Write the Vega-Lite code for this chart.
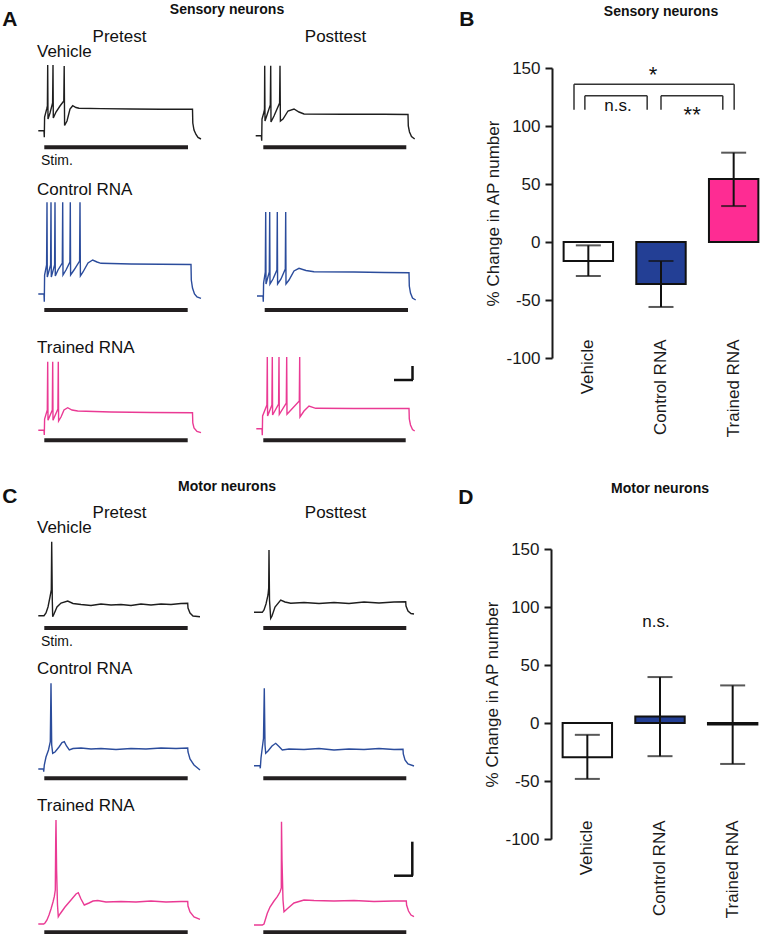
{
"$schema": "https://vega.github.io/schema/vega-lite/v6.json",
"padding": {"left": 2, "top": 2, "right": 0, "bottom": 0},
"spacing": 29,
"config": {
  "font": "Liberation Sans",
  "view": {"stroke": null},
  "axis": {"grid": false, "domainColor": "#1a1a1a", "tickColor": "#1a1a1a", "labelColor": "#1a1a1a", "titleColor": "#1a1a1a", "labelFontSize": 17, "titleFontSize": 17, "titleFontWeight": "normal", "labelFont": "Liberation Sans", "titleFont": "Liberation Sans"},
  "axisY": {"domainWidth": 2, "tickWidth": 2, "tickSize": 7, "labelPadding": 5, "titlePadding": 3.5, "labelExpr": "'' + datum.value"},
  "axisX": {"domain": false, "ticks": false, "labelAngle": -90, "offset": -22, "labelPadding": 3},
  "header": {"titleFontSize": 14, "titleFontWeight": "bold", "titleColor": "#111", "labelFontSize": 17, "labelColor": "#111", "titleFont": "Liberation Sans", "labelFont": "Liberation Sans"},
  "title": {"color": "#111", "font": "Liberation Sans"}
},
"vconcat": [
{
"spacing": 40,
"hconcat": [
{
  "title": {"text": "A", "orient": "left", "angle": 0, "anchor": "end", "align": "left", "baseline": "top", "fontSize": 21, "fontWeight": "bold", "offset": 18, "dy": 6.7},
  "data": {"values": [
    {"cond":"Vehicle","test":"Pretest","kind":"trace","t":13,"v":48.3},{"cond":"Vehicle","test":"Pretest","kind":"trace","t":70,"v":48.3},{"cond":"Vehicle","test":"Pretest","kind":"trace","t":73,"v":41.7},{"cond":"Vehicle","test":"Pretest","kind":"trace","t":76,"v":62},{"cond":"Vehicle","test":"Pretest","kind":"trace","t":97,"v":70},{"cond":"Vehicle","test":"Pretest","kind":"trace","t":104,"v":73},{"cond":"Vehicle","test":"Pretest","kind":"trace","t":107,"v":114},{"cond":"Vehicle","test":"Pretest","kind":"trace","t":110,"v":60},{"cond":"Vehicle","test":"Pretest","kind":"trace","t":130,"v":66},{"cond":"Vehicle","test":"Pretest","kind":"trace","t":156,"v":76},{"cond":"Vehicle","test":"Pretest","kind":"trace","t":160,"v":114},{"cond":"Vehicle","test":"Pretest","kind":"trace","t":163,"v":61},{"cond":"Vehicle","test":"Pretest","kind":"trace","t":190,"v":67},{"cond":"Vehicle","test":"Pretest","kind":"trace","t":230,"v":73},{"cond":"Vehicle","test":"Pretest","kind":"trace","t":268,"v":78},{"cond":"Vehicle","test":"Pretest","kind":"trace","t":272,"v":113},{"cond":"Vehicle","test":"Pretest","kind":"trace","t":276,"v":53.5},{"cond":"Vehicle","test":"Pretest","kind":"trace","t":300,"v":58},{"cond":"Vehicle","test":"Pretest","kind":"trace","t":330,"v":70},{"cond":"Vehicle","test":"Pretest","kind":"trace","t":357,"v":73.3},{"cond":"Vehicle","test":"Pretest","kind":"trace","t":390,"v":71.5},{"cond":"Vehicle","test":"Pretest","kind":"trace","t":420,"v":70.7},{"cond":"Vehicle","test":"Pretest","kind":"trace","t":640,"v":70.4},{"cond":"Vehicle","test":"Pretest","kind":"trace","t":940,"v":70},{"cond":"Vehicle","test":"Pretest","kind":"trace","t":1240,"v":69.8},{"cond":"Vehicle","test":"Pretest","kind":"trace","t":1555,"v":69.7},{"cond":"Vehicle","test":"Pretest","kind":"trace","t":1558,"v":56},{"cond":"Vehicle","test":"Pretest","kind":"trace","t":1570,"v":49},{"cond":"Vehicle","test":"Pretest","kind":"trace","t":1590,"v":44.5},{"cond":"Vehicle","test":"Pretest","kind":"trace","t":1610,"v":41.5},{"cond":"Vehicle","test":"Pretest","kind":"trace","t":1640,"v":40},
    {"cond":"Vehicle","test":"Posttest","kind":"trace","t":27,"v":43.3},{"cond":"Vehicle","test":"Posttest","kind":"trace","t":84,"v":43.3},{"cond":"Vehicle","test":"Posttest","kind":"trace","t":87,"v":38.3},{"cond":"Vehicle","test":"Posttest","kind":"trace","t":90,"v":60},{"cond":"Vehicle","test":"Posttest","kind":"trace","t":110,"v":67},{"cond":"Vehicle","test":"Posttest","kind":"trace","t":115,"v":70},{"cond":"Vehicle","test":"Posttest","kind":"trace","t":117,"v":113.3},{"cond":"Vehicle","test":"Posttest","kind":"trace","t":120,"v":58},{"cond":"Vehicle","test":"Posttest","kind":"trace","t":140,"v":64},{"cond":"Vehicle","test":"Posttest","kind":"trace","t":173,"v":74},{"cond":"Vehicle","test":"Posttest","kind":"trace","t":177,"v":113.3},{"cond":"Vehicle","test":"Posttest","kind":"trace","t":180,"v":57},{"cond":"Vehicle","test":"Posttest","kind":"trace","t":210,"v":63},{"cond":"Vehicle","test":"Posttest","kind":"trace","t":266,"v":76},{"cond":"Vehicle","test":"Posttest","kind":"trace","t":270,"v":113.3},{"cond":"Vehicle","test":"Posttest","kind":"trace","t":274,"v":58},{"cond":"Vehicle","test":"Posttest","kind":"trace","t":300,"v":60},{"cond":"Vehicle","test":"Posttest","kind":"trace","t":350,"v":68},{"cond":"Vehicle","test":"Posttest","kind":"trace","t":410,"v":70},{"cond":"Vehicle","test":"Posttest","kind":"trace","t":460,"v":67},{"cond":"Vehicle","test":"Posttest","kind":"trace","t":510,"v":65},{"cond":"Vehicle","test":"Posttest","kind":"trace","t":910,"v":64.8},{"cond":"Vehicle","test":"Posttest","kind":"trace","t":1310,"v":64.7},{"cond":"Vehicle","test":"Posttest","kind":"trace","t":1550,"v":64.5},{"cond":"Vehicle","test":"Posttest","kind":"trace","t":1553,"v":53},{"cond":"Vehicle","test":"Posttest","kind":"trace","t":1565,"v":47},{"cond":"Vehicle","test":"Posttest","kind":"trace","t":1585,"v":42.5},{"cond":"Vehicle","test":"Posttest","kind":"trace","t":1617,"v":40},
    {"cond":"Control RNA","test":"Pretest","kind":"trace","t":13,"v":21},{"cond":"Control RNA","test":"Pretest","kind":"trace","t":70,"v":21},{"cond":"Control RNA","test":"Pretest","kind":"trace","t":73,"v":13.3},{"cond":"Control RNA","test":"Pretest","kind":"trace","t":76,"v":40},{"cond":"Control RNA","test":"Pretest","kind":"trace","t":96,"v":50},{"cond":"Control RNA","test":"Pretest","kind":"trace","t":100,"v":112.7},{"cond":"Control RNA","test":"Pretest","kind":"trace","t":103,"v":38},{"cond":"Control RNA","test":"Pretest","kind":"trace","t":136,"v":50},{"cond":"Control RNA","test":"Pretest","kind":"trace","t":140,"v":112.7},{"cond":"Control RNA","test":"Pretest","kind":"trace","t":143,"v":38},{"cond":"Control RNA","test":"Pretest","kind":"trace","t":176,"v":50},{"cond":"Control RNA","test":"Pretest","kind":"trace","t":180,"v":112.7},{"cond":"Control RNA","test":"Pretest","kind":"trace","t":183,"v":39},{"cond":"Control RNA","test":"Pretest","kind":"trace","t":210,"v":45},{"cond":"Control RNA","test":"Pretest","kind":"trace","t":253,"v":52},{"cond":"Control RNA","test":"Pretest","kind":"trace","t":257,"v":112.7},{"cond":"Control RNA","test":"Pretest","kind":"trace","t":260,"v":40},{"cond":"Control RNA","test":"Pretest","kind":"trace","t":290,"v":45},{"cond":"Control RNA","test":"Pretest","kind":"trace","t":329,"v":53},{"cond":"Control RNA","test":"Pretest","kind":"trace","t":333,"v":112.7},{"cond":"Control RNA","test":"Pretest","kind":"trace","t":336,"v":40},{"cond":"Control RNA","test":"Pretest","kind":"trace","t":370,"v":45},{"cond":"Control RNA","test":"Pretest","kind":"trace","t":426,"v":54},{"cond":"Control RNA","test":"Pretest","kind":"trace","t":430,"v":112.7},{"cond":"Control RNA","test":"Pretest","kind":"trace","t":434,"v":39},{"cond":"Control RNA","test":"Pretest","kind":"trace","t":460,"v":43},{"cond":"Control RNA","test":"Pretest","kind":"trace","t":510,"v":52},{"cond":"Control RNA","test":"Pretest","kind":"trace","t":557,"v":55},{"cond":"Control RNA","test":"Pretest","kind":"trace","t":600,"v":53},{"cond":"Control RNA","test":"Pretest","kind":"trace","t":640,"v":51.7},{"cond":"Control RNA","test":"Pretest","kind":"trace","t":940,"v":51},{"cond":"Control RNA","test":"Pretest","kind":"trace","t":1240,"v":50.7},{"cond":"Control RNA","test":"Pretest","kind":"trace","t":1540,"v":50.5},{"cond":"Control RNA","test":"Pretest","kind":"trace","t":1543,"v":35},{"cond":"Control RNA","test":"Pretest","kind":"trace","t":1555,"v":27},{"cond":"Control RNA","test":"Pretest","kind":"trace","t":1575,"v":21},{"cond":"Control RNA","test":"Pretest","kind":"trace","t":1600,"v":18},{"cond":"Control RNA","test":"Pretest","kind":"trace","t":1640,"v":16.7},
    {"cond":"Control RNA","test":"Posttest","kind":"trace","t":40,"v":19},{"cond":"Control RNA","test":"Posttest","kind":"trace","t":100,"v":19},{"cond":"Control RNA","test":"Posttest","kind":"trace","t":103,"v":13.3},{"cond":"Control RNA","test":"Posttest","kind":"trace","t":106,"v":32},{"cond":"Control RNA","test":"Posttest","kind":"trace","t":123,"v":43},{"cond":"Control RNA","test":"Posttest","kind":"trace","t":127,"v":103},{"cond":"Control RNA","test":"Posttest","kind":"trace","t":130,"v":31},{"cond":"Control RNA","test":"Posttest","kind":"trace","t":163,"v":43},{"cond":"Control RNA","test":"Posttest","kind":"trace","t":167,"v":103},{"cond":"Control RNA","test":"Posttest","kind":"trace","t":170,"v":31},{"cond":"Control RNA","test":"Posttest","kind":"trace","t":200,"v":36},{"cond":"Control RNA","test":"Posttest","kind":"trace","t":239,"v":45},{"cond":"Control RNA","test":"Posttest","kind":"trace","t":243,"v":103},{"cond":"Control RNA","test":"Posttest","kind":"trace","t":246,"v":31},{"cond":"Control RNA","test":"Posttest","kind":"trace","t":280,"v":36},{"cond":"Control RNA","test":"Posttest","kind":"trace","t":323,"v":46},{"cond":"Control RNA","test":"Posttest","kind":"trace","t":327,"v":103},{"cond":"Control RNA","test":"Posttest","kind":"trace","t":330,"v":31},{"cond":"Control RNA","test":"Posttest","kind":"trace","t":360,"v":35},{"cond":"Control RNA","test":"Posttest","kind":"trace","t":410,"v":44},{"cond":"Control RNA","test":"Posttest","kind":"trace","t":460,"v":46.7},{"cond":"Control RNA","test":"Posttest","kind":"trace","t":530,"v":44.5},{"cond":"Control RNA","test":"Posttest","kind":"trace","t":610,"v":43.3},{"cond":"Control RNA","test":"Posttest","kind":"trace","t":1010,"v":43},{"cond":"Control RNA","test":"Posttest","kind":"trace","t":1310,"v":42.5},{"cond":"Control RNA","test":"Posttest","kind":"trace","t":1560,"v":42.3},{"cond":"Control RNA","test":"Posttest","kind":"trace","t":1563,"v":29},{"cond":"Control RNA","test":"Posttest","kind":"trace","t":1575,"v":22},{"cond":"Control RNA","test":"Posttest","kind":"trace","t":1595,"v":17},{"cond":"Control RNA","test":"Posttest","kind":"trace","t":1627,"v":15},
    {"cond":"Trained RNA","test":"Pretest","kind":"trace","t":13,"v":20.7},{"cond":"Trained RNA","test":"Pretest","kind":"trace","t":70,"v":20.7},{"cond":"Trained RNA","test":"Pretest","kind":"trace","t":73,"v":16},{"cond":"Trained RNA","test":"Pretest","kind":"trace","t":76,"v":32},{"cond":"Trained RNA","test":"Pretest","kind":"trace","t":103,"v":41},{"cond":"Trained RNA","test":"Pretest","kind":"trace","t":107,"v":89.3},{"cond":"Trained RNA","test":"Pretest","kind":"trace","t":110,"v":30.7},{"cond":"Trained RNA","test":"Pretest","kind":"trace","t":153,"v":41},{"cond":"Trained RNA","test":"Pretest","kind":"trace","t":157,"v":89.3},{"cond":"Trained RNA","test":"Pretest","kind":"trace","t":160,"v":30.7},{"cond":"Trained RNA","test":"Pretest","kind":"trace","t":209,"v":42},{"cond":"Trained RNA","test":"Pretest","kind":"trace","t":213,"v":89.3},{"cond":"Trained RNA","test":"Pretest","kind":"trace","t":216,"v":30},{"cond":"Trained RNA","test":"Pretest","kind":"trace","t":240,"v":34},{"cond":"Trained RNA","test":"Pretest","kind":"trace","t":270,"v":41},{"cond":"Trained RNA","test":"Pretest","kind":"trace","t":307,"v":43.3},{"cond":"Trained RNA","test":"Pretest","kind":"trace","t":350,"v":41},{"cond":"Trained RNA","test":"Pretest","kind":"trace","t":407,"v":40},{"cond":"Trained RNA","test":"Pretest","kind":"trace","t":740,"v":39},{"cond":"Trained RNA","test":"Pretest","kind":"trace","t":1140,"v":38.5},{"cond":"Trained RNA","test":"Pretest","kind":"trace","t":1555,"v":38.3},{"cond":"Trained RNA","test":"Pretest","kind":"trace","t":1558,"v":28},{"cond":"Trained RNA","test":"Pretest","kind":"trace","t":1570,"v":23},{"cond":"Trained RNA","test":"Pretest","kind":"trace","t":1600,"v":19.5},{"cond":"Trained RNA","test":"Pretest","kind":"trace","t":1640,"v":18.3},
    {"cond":"Trained RNA","test":"Posttest","kind":"trace","t":33,"v":22.3},{"cond":"Trained RNA","test":"Posttest","kind":"trace","t":90,"v":22.3},{"cond":"Trained RNA","test":"Posttest","kind":"trace","t":93,"v":15.7},{"cond":"Trained RNA","test":"Posttest","kind":"trace","t":96,"v":35},{"cond":"Trained RNA","test":"Posttest","kind":"trace","t":139,"v":46},{"cond":"Trained RNA","test":"Posttest","kind":"trace","t":143,"v":94},{"cond":"Trained RNA","test":"Posttest","kind":"trace","t":146,"v":35},{"cond":"Trained RNA","test":"Posttest","kind":"trace","t":189,"v":46},{"cond":"Trained RNA","test":"Posttest","kind":"trace","t":193,"v":94},{"cond":"Trained RNA","test":"Posttest","kind":"trace","t":196,"v":36},{"cond":"Trained RNA","test":"Posttest","kind":"trace","t":256,"v":47},{"cond":"Trained RNA","test":"Posttest","kind":"trace","t":260,"v":94},{"cond":"Trained RNA","test":"Posttest","kind":"trace","t":263,"v":36.7},{"cond":"Trained RNA","test":"Posttest","kind":"trace","t":333,"v":48},{"cond":"Trained RNA","test":"Posttest","kind":"trace","t":337,"v":94},{"cond":"Trained RNA","test":"Posttest","kind":"trace","t":340,"v":36.7},{"cond":"Trained RNA","test":"Posttest","kind":"trace","t":463,"v":50},{"cond":"Trained RNA","test":"Posttest","kind":"trace","t":467,"v":94},{"cond":"Trained RNA","test":"Posttest","kind":"trace","t":470,"v":34},{"cond":"Trained RNA","test":"Posttest","kind":"trace","t":510,"v":40},{"cond":"Trained RNA","test":"Posttest","kind":"trace","t":560,"v":45},{"cond":"Trained RNA","test":"Posttest","kind":"trace","t":627,"v":42.7},{"cond":"Trained RNA","test":"Posttest","kind":"trace","t":1010,"v":42.5},{"cond":"Trained RNA","test":"Posttest","kind":"trace","t":1560,"v":42.5},{"cond":"Trained RNA","test":"Posttest","kind":"trace","t":1563,"v":32},{"cond":"Trained RNA","test":"Posttest","kind":"trace","t":1575,"v":26},{"cond":"Trained RNA","test":"Posttest","kind":"trace","t":1595,"v":21.5},{"cond":"Trained RNA","test":"Posttest","kind":"trace","t":1617,"v":20},
    {"cond":"Vehicle","test":"Pretest","kind":"stim","t":73,"t2":1510,"v":31.7},{"cond":"Vehicle","test":"Posttest","kind":"stim","t":103,"t2":1533,"v":31.7},
    {"cond":"Control RNA","test":"Pretest","kind":"stim","t":73,"t2":1507,"v":5},{"cond":"Control RNA","test":"Posttest","kind":"stim","t":117,"t2":1550,"v":5},
    {"cond":"Trained RNA","test":"Pretest","kind":"stim","t":73,"t2":1507,"v":10.7},{"cond":"Trained RNA","test":"Posttest","kind":"stim","t":103,"t2":1527,"v":10.7},
    {"cond":"Vehicle","test":"Pretest","kind":"label","t":0,"v":127.5,"label":"Vehicle"},
    {"cond":"Control RNA","test":"Pretest","kind":"label","t":0,"v":125,"label":"Control RNA"},
    {"cond":"Trained RNA","test":"Pretest","kind":"label","t":0,"v":103.5,"label":"Trained RNA"},
    {"cond":"Vehicle","test":"Pretest","kind":"stimlabel","t":40,"v":18,"label":"Stim."},
    {"cond":"Trained RNA","test":"Posttest","kind":"scale","t":1410,"t2":1600,"v":71,"v2":71},
    {"cond":"Trained RNA","test":"Posttest","kind":"scale","t":1595,"t2":1595,"v":85,"v2":71}
  ]},
  "facet": {
    "column": {"field": "test", "type": "nominal", "sort": ["Pretest", "Posttest"], "title": "Sensory neurons", "header": {"titlePadding": 0.5, "labelPadding": -3.5}},
    "row": {"field": "cond", "type": "nominal", "sort": ["Vehicle", "Control RNA", "Trained RNA"], "title": null, "header": {"labels": false}}
  },
  "spacing": {"row": 1, "column": 48},
  "spec": {
    "width": 165, "height": 111,
    "layer": [
      {"transform": [{"filter": "datum.kind == 'trace'"}],
       "mark": {"type": "line", "strokeWidth": 1.4, "interpolate": "linear"},
       "encoding": {
         "x": {"field": "t", "type": "quantitative", "scale": {"domain": [0, 1650], "nice": false, "zero": false}, "axis": null},
         "y": {"field": "v", "type": "quantitative", "scale": {"domain": [0, 111], "nice": false, "zero": false}, "axis": null},
         "color": {"field": "cond", "type": "nominal", "scale": {"domain": ["Vehicle", "Control RNA", "Trained RNA"], "range": ["#1e1e1e", "#2b4c9c", "#ea3a94"]}, "legend": null}
       }},
      {"transform": [{"filter": "datum.kind == 'stim'"}],
       "mark": {"type": "rule", "strokeWidth": 4, "color": "#231f20"},
       "encoding": {
         "x": {"field": "t", "type": "quantitative", "scale": {"domain": [0, 1650], "nice": false, "zero": false}, "axis": null},
         "x2": {"field": "t2"},
         "y": {"field": "v", "type": "quantitative", "scale": {"domain": [0, 111], "nice": false, "zero": false}, "axis": null}
       }},
      {"transform": [{"filter": "datum.kind == 'scale'"}],
       "mark": {"type": "rule", "strokeWidth": 2.5, "color": "#111"},
       "encoding": {
         "x": {"field": "t", "type": "quantitative", "scale": {"domain": [0, 1650], "nice": false, "zero": false}, "axis": null},
         "x2": {"field": "t2"},
         "y": {"field": "v", "type": "quantitative", "scale": {"domain": [0, 111], "nice": false, "zero": false}, "axis": null},
         "y2": {"field": "v2"}
       }},
      {"transform": [{"filter": "datum.kind == 'label'"}],
       "mark": {"type": "text", "align": "left", "baseline": "middle", "fontSize": 17, "color": "#111"},
       "encoding": {
         "x": {"field": "t", "type": "quantitative", "scale": {"domain": [0, 1650], "nice": false, "zero": false}, "axis": null},
         "y": {"field": "v", "type": "quantitative", "scale": {"domain": [0, 111], "nice": false, "zero": false}, "axis": null},
         "text": {"field": "label"}
       }},
      {"transform": [{"filter": "datum.kind == 'stimlabel'"}],
       "mark": {"type": "text", "align": "left", "baseline": "middle", "fontSize": 14, "color": "#111"},
       "encoding": {
         "x": {"field": "t", "type": "quantitative", "scale": {"domain": [0, 1650], "nice": false, "zero": false}, "axis": null},
         "y": {"field": "v", "type": "quantitative", "scale": {"domain": [0, 111], "nice": false, "zero": false}, "axis": null},
         "text": {"field": "label"}
       }}
    ]
  }
},
{
  "title": {"text": "B", "orient": "left", "angle": 0, "anchor": "end", "align": "left", "baseline": "top", "fontSize": 21, "fontWeight": "bold", "offset": 10, "dy": 3.7},
  "hconcat": [
  {
    "title": {"text": "Sensory neurons", "fontSize": 14, "fontWeight": "bold", "anchor": "middle", "frame": "group", "offset": 40, "dx": 0},
    "width": 218, "height": 290,
    "layer": [
      {"data": {"values": [{"group":"Vehicle","mean":-16.4,"lo":-29.3,"hi":-2.9},{"group":"Control RNA","mean":-36.2,"lo":-56,"hi":-16.4},{"group":"Trained RNA","mean":54.3,"lo":31,"hi":77}]},
       "layer": [
        {"mark": {"type": "bar", "stroke": "#111", "strokeWidth": 2},
         "encoding": {
           "x": {"field": "group", "type": "nominal", "title": null, "scale": {"domain": ["Vehicle", "Control RNA", "Trained RNA"], "paddingInner": 0.32, "paddingOuter": 0.16}},
           "y": {"field": "mean", "type": "quantitative", "title": "% Change in AP number", "scale": {"domain": [-100, 150], "nice": false}, "axis": {"values": [-100, -50, 0, 50, 100, 150]}},
           "fill": {"field": "group", "type": "nominal", "scale": {"domain": ["Vehicle", "Control RNA", "Trained RNA"], "range": ["#ffffff", "#233f95", "#fe2c93"]}, "legend": null}
         }},
        {"mark": {"type": "rule", "strokeWidth": 2, "color": "#111"},
         "encoding": {
           "x": {"field": "group", "type": "nominal", "title": null, "scale": {"domain": ["Vehicle", "Control RNA", "Trained RNA"]}},
           "y": {"field": "lo", "type": "quantitative", "title": "% Change in AP number", "scale": {"domain": [-100, 150], "nice": false}},
           "y2": {"field": "hi"}
         }},
        {"mark": {"type": "tick", "thickness": 2, "size": 25, "color": "#111"},
         "encoding": {
           "x": {"field": "group", "type": "nominal", "title": null, "scale": {"domain": ["Vehicle", "Control RNA", "Trained RNA"]}},
           "y": {"field": "lo", "type": "quantitative", "title": "% Change in AP number", "scale": {"domain": [-100, 150], "nice": false}}
         }},
        {"mark": {"type": "tick", "thickness": 2, "size": 25, "color": "#111"},
         "encoding": {
           "x": {"field": "group", "type": "nominal", "title": null, "scale": {"domain": ["Vehicle", "Control RNA", "Trained RNA"]}},
           "y": {"field": "hi", "type": "quantitative", "title": "% Change in AP number", "scale": {"domain": [-100, 150], "nice": false}}
         }}
       ]},
      {"mark": {"type": "rule", "strokeWidth": 2, "color": "#111"},
       "encoding": {"y": {"datum": 0, "type": "quantitative", "title": "% Change in AP number", "scale": {"domain": [-100, 150], "nice": false}}}},
      {"data": {"values": [{"a": "Vehicle", "b": "Trained RNA", "top": 136, "bot": 114}]},
       "layer": [
        {"mark": {"type": "rule", "strokeWidth": 1.5, "color": "#333"},
         "encoding": {"x": {"field": "a", "type": "nominal", "bandPosition": 0.21, "title": null, "scale": {"domain": ["Vehicle", "Control RNA", "Trained RNA"]}}, "x2": {"field": "b", "bandPosition": 0.51}, "y": {"field": "top", "type": "quantitative", "title": "% Change in AP number", "scale": {"domain": [-100, 150], "nice": false}}}},
        {"mark": {"type": "rule", "strokeWidth": 1.5, "color": "#333"},
         "encoding": {"x": {"field": "a", "type": "nominal", "bandPosition": 0.21, "title": null, "scale": {"domain": ["Vehicle", "Control RNA", "Trained RNA"]}}, "y": {"field": "bot", "type": "quantitative", "title": "% Change in AP number", "scale": {"domain": [-100, 150], "nice": false}}, "y2": {"field": "top"}}},
        {"mark": {"type": "rule", "strokeWidth": 1.5, "color": "#333"},
         "encoding": {"x": {"field": "b", "type": "nominal", "bandPosition": 0.51, "title": null, "scale": {"domain": ["Vehicle", "Control RNA", "Trained RNA"]}}, "y": {"field": "bot", "type": "quantitative", "title": "% Change in AP number", "scale": {"domain": [-100, 150], "nice": false}}, "y2": {"field": "top"}}}
       ]},
      {"data": {"values": [{"a": "Vehicle", "b": "Control RNA", "top": 126, "bot": 114}]},
       "layer": [
        {"mark": {"type": "rule", "strokeWidth": 1.5, "color": "#333"},
         "encoding": {"x": {"field": "a", "type": "nominal", "bandPosition": 0.43, "title": null, "scale": {"domain": ["Vehicle", "Control RNA", "Trained RNA"]}}, "x2": {"field": "b", "bandPosition": 0.22}, "y": {"field": "top", "type": "quantitative", "title": "% Change in AP number", "scale": {"domain": [-100, 150], "nice": false}}}},
        {"mark": {"type": "rule", "strokeWidth": 1.5, "color": "#333"},
         "encoding": {"x": {"field": "a", "type": "nominal", "bandPosition": 0.43, "title": null, "scale": {"domain": ["Vehicle", "Control RNA", "Trained RNA"]}}, "y": {"field": "bot", "type": "quantitative", "title": "% Change in AP number", "scale": {"domain": [-100, 150], "nice": false}}, "y2": {"field": "top"}}},
        {"mark": {"type": "rule", "strokeWidth": 1.5, "color": "#333"},
         "encoding": {"x": {"field": "b", "type": "nominal", "bandPosition": 0.22, "title": null, "scale": {"domain": ["Vehicle", "Control RNA", "Trained RNA"]}}, "y": {"field": "bot", "type": "quantitative", "title": "% Change in AP number", "scale": {"domain": [-100, 150], "nice": false}}, "y2": {"field": "top"}}}
       ]},
      {"data": {"values": [{"a": "Control RNA", "b": "Trained RNA", "top": 126, "bot": 114}]},
       "layer": [
        {"mark": {"type": "rule", "strokeWidth": 1.5, "color": "#333"},
         "encoding": {"x": {"field": "a", "type": "nominal", "bandPosition": 0.5, "title": null, "scale": {"domain": ["Vehicle", "Control RNA", "Trained RNA"]}}, "x2": {"field": "b", "bandPosition": 0.28}, "y": {"field": "top", "type": "quantitative", "title": "% Change in AP number", "scale": {"domain": [-100, 150], "nice": false}}}},
        {"mark": {"type": "rule", "strokeWidth": 1.5, "color": "#333"},
         "encoding": {"x": {"field": "a", "type": "nominal", "bandPosition": 0.5, "title": null, "scale": {"domain": ["Vehicle", "Control RNA", "Trained RNA"]}}, "y": {"field": "bot", "type": "quantitative", "title": "% Change in AP number", "scale": {"domain": [-100, 150], "nice": false}}, "y2": {"field": "top"}}},
        {"mark": {"type": "rule", "strokeWidth": 1.5, "color": "#333"},
         "encoding": {"x": {"field": "b", "type": "nominal", "bandPosition": 0.28, "title": null, "scale": {"domain": ["Vehicle", "Control RNA", "Trained RNA"]}}, "y": {"field": "bot", "type": "quantitative", "title": "% Change in AP number", "scale": {"domain": [-100, 150], "nice": false}}, "y2": {"field": "top"}}}
       ]},
      {"data": {"values": [{"group": "Control RNA", "y": 138, "label": "*"}]},
       "mark": {"type": "text", "fontSize": 22, "baseline": "alphabetic", "align": "center", "color": "#111"},
       "encoding": {"x": {"field": "group", "type": "nominal", "bandPosition": 0.34, "title": null, "scale": {"domain": ["Vehicle", "Control RNA", "Trained RNA"]}}, "y": {"field": "y", "type": "quantitative", "title": "% Change in AP number", "scale": {"domain": [-100, 150], "nice": false}}, "text": {"field": "label"}}},
      {"data": {"values": [{"group": "Control RNA", "y": 103.7, "label": "**"}]},
       "mark": {"type": "text", "fontSize": 22, "baseline": "alphabetic", "align": "center", "color": "#111"},
       "encoding": {"x": {"field": "group", "type": "nominal", "bandPosition": 1.13, "title": null, "scale": {"domain": ["Vehicle", "Control RNA", "Trained RNA"]}}, "y": {"field": "y", "type": "quantitative", "title": "% Change in AP number", "scale": {"domain": [-100, 150], "nice": false}}, "text": {"field": "label"}}},
      {"data": {"values": [{"group": "Vehicle", "y": 112.8, "label": "n.s."}]},
       "mark": {"type": "text", "fontSize": 17, "baseline": "alphabetic", "align": "center", "color": "#111"},
       "encoding": {"x": {"field": "group", "type": "nominal", "bandPosition": 1.1, "title": null, "scale": {"domain": ["Vehicle", "Control RNA", "Trained RNA"]}}, "y": {"field": "y", "type": "quantitative", "title": "% Change in AP number", "scale": {"domain": [-100, 150], "nice": false}}, "text": {"field": "label"}}}
    ]
  }
  ]
}
]
},
{
"spacing": 40,
"hconcat": [
{
  "title": {"text": "C", "orient": "left", "angle": 0, "anchor": "end", "align": "left", "baseline": "top", "fontSize": 21, "fontWeight": "bold", "offset": 18, "dy": 6},
  "data": {"values": [
    {"cond":"Vehicle","test":"Pretest","kind":"trace","t":13,"v":42.3},{"cond":"Vehicle","test":"Pretest","kind":"trace","t":70,"v":42.3},{"cond":"Vehicle","test":"Pretest","kind":"trace","t":90,"v":45},{"cond":"Vehicle","test":"Pretest","kind":"trace","t":110,"v":51},{"cond":"Vehicle","test":"Pretest","kind":"trace","t":130,"v":61},{"cond":"Vehicle","test":"Pretest","kind":"trace","t":143,"v":68},{"cond":"Vehicle","test":"Pretest","kind":"trace","t":147,"v":116.3},{"cond":"Vehicle","test":"Pretest","kind":"trace","t":153,"v":58},{"cond":"Vehicle","test":"Pretest","kind":"trace","t":157,"v":41.3},{"cond":"Vehicle","test":"Pretest","kind":"trace","t":170,"v":44},{"cond":"Vehicle","test":"Pretest","kind":"trace","t":200,"v":51},{"cond":"Vehicle","test":"Pretest","kind":"trace","t":240,"v":55},{"cond":"Vehicle","test":"Pretest","kind":"trace","t":307,"v":57},{"cond":"Vehicle","test":"Pretest","kind":"trace","t":360,"v":54.5},{"cond":"Vehicle","test":"Pretest","kind":"trace","t":440,"v":53.5},{"cond":"Vehicle","test":"Pretest","kind":"trace","t":540,"v":52.5},{"cond":"Vehicle","test":"Pretest","kind":"trace","t":640,"v":54},{"cond":"Vehicle","test":"Pretest","kind":"trace","t":740,"v":53},{"cond":"Vehicle","test":"Pretest","kind":"trace","t":840,"v":53.5},{"cond":"Vehicle","test":"Pretest","kind":"trace","t":940,"v":52.5},{"cond":"Vehicle","test":"Pretest","kind":"trace","t":1040,"v":54},{"cond":"Vehicle","test":"Pretest","kind":"trace","t":1140,"v":53},{"cond":"Vehicle","test":"Pretest","kind":"trace","t":1240,"v":54},{"cond":"Vehicle","test":"Pretest","kind":"trace","t":1340,"v":53.5},{"cond":"Vehicle","test":"Pretest","kind":"trace","t":1440,"v":54.5},{"cond":"Vehicle","test":"Pretest","kind":"trace","t":1507,"v":54.7},{"cond":"Vehicle","test":"Pretest","kind":"trace","t":1510,"v":50},{"cond":"Vehicle","test":"Pretest","kind":"trace","t":1530,"v":45},{"cond":"Vehicle","test":"Pretest","kind":"trace","t":1560,"v":42},{"cond":"Vehicle","test":"Pretest","kind":"trace","t":1630,"v":41.3},
    {"cond":"Vehicle","test":"Posttest","kind":"trace","t":10,"v":45.7},{"cond":"Vehicle","test":"Posttest","kind":"trace","t":93,"v":45.7},{"cond":"Vehicle","test":"Posttest","kind":"trace","t":110,"v":48},{"cond":"Vehicle","test":"Posttest","kind":"trace","t":130,"v":54},{"cond":"Vehicle","test":"Posttest","kind":"trace","t":150,"v":63},{"cond":"Vehicle","test":"Posttest","kind":"trace","t":157,"v":70},{"cond":"Vehicle","test":"Posttest","kind":"trace","t":160,"v":108},{"cond":"Vehicle","test":"Posttest","kind":"trace","t":165,"v":58},{"cond":"Vehicle","test":"Posttest","kind":"trace","t":177,"v":39.7},{"cond":"Vehicle","test":"Posttest","kind":"trace","t":190,"v":42},{"cond":"Vehicle","test":"Posttest","kind":"trace","t":220,"v":51},{"cond":"Vehicle","test":"Posttest","kind":"trace","t":277,"v":58},{"cond":"Vehicle","test":"Posttest","kind":"trace","t":320,"v":56},{"cond":"Vehicle","test":"Posttest","kind":"trace","t":377,"v":54.7},{"cond":"Vehicle","test":"Posttest","kind":"trace","t":510,"v":55.5},{"cond":"Vehicle","test":"Posttest","kind":"trace","t":660,"v":54.5},{"cond":"Vehicle","test":"Posttest","kind":"trace","t":810,"v":55.5},{"cond":"Vehicle","test":"Posttest","kind":"trace","t":960,"v":54.5},{"cond":"Vehicle","test":"Posttest","kind":"trace","t":1110,"v":56},{"cond":"Vehicle","test":"Posttest","kind":"trace","t":1260,"v":55},{"cond":"Vehicle","test":"Posttest","kind":"trace","t":1410,"v":56},{"cond":"Vehicle","test":"Posttest","kind":"trace","t":1527,"v":56.3},{"cond":"Vehicle","test":"Posttest","kind":"trace","t":1530,"v":52},{"cond":"Vehicle","test":"Posttest","kind":"trace","t":1550,"v":47},{"cond":"Vehicle","test":"Posttest","kind":"trace","t":1580,"v":44.5},{"cond":"Vehicle","test":"Posttest","kind":"trace","t":1610,"v":44},
    {"cond":"Control RNA","test":"Pretest","kind":"trace","t":13,"v":26},{"cond":"Control RNA","test":"Pretest","kind":"trace","t":65,"v":26},{"cond":"Control RNA","test":"Pretest","kind":"trace","t":67,"v":23.3},{"cond":"Control RNA","test":"Pretest","kind":"trace","t":73,"v":30},{"cond":"Control RNA","test":"Pretest","kind":"trace","t":90,"v":38},{"cond":"Control RNA","test":"Pretest","kind":"trace","t":115,"v":45},{"cond":"Control RNA","test":"Pretest","kind":"trace","t":133,"v":53.3},{"cond":"Control RNA","test":"Pretest","kind":"trace","t":140,"v":111.7},{"cond":"Control RNA","test":"Pretest","kind":"trace","t":147,"v":50},{"cond":"Control RNA","test":"Pretest","kind":"trace","t":157,"v":41.7},{"cond":"Control RNA","test":"Pretest","kind":"trace","t":180,"v":43},{"cond":"Control RNA","test":"Pretest","kind":"trace","t":220,"v":48},{"cond":"Control RNA","test":"Pretest","kind":"trace","t":250,"v":52.5},{"cond":"Control RNA","test":"Pretest","kind":"trace","t":273,"v":53.3},{"cond":"Control RNA","test":"Pretest","kind":"trace","t":295,"v":49},{"cond":"Control RNA","test":"Pretest","kind":"trace","t":323,"v":45},{"cond":"Control RNA","test":"Pretest","kind":"trace","t":360,"v":46.5},{"cond":"Control RNA","test":"Pretest","kind":"trace","t":440,"v":47},{"cond":"Control RNA","test":"Pretest","kind":"trace","t":540,"v":46},{"cond":"Control RNA","test":"Pretest","kind":"trace","t":640,"v":46.5},{"cond":"Control RNA","test":"Pretest","kind":"trace","t":790,"v":45.5},{"cond":"Control RNA","test":"Pretest","kind":"trace","t":940,"v":46.5},{"cond":"Control RNA","test":"Pretest","kind":"trace","t":1090,"v":46},{"cond":"Control RNA","test":"Pretest","kind":"trace","t":1240,"v":47},{"cond":"Control RNA","test":"Pretest","kind":"trace","t":1390,"v":46.5},{"cond":"Control RNA","test":"Pretest","kind":"trace","t":1507,"v":47},{"cond":"Control RNA","test":"Pretest","kind":"trace","t":1510,"v":43},{"cond":"Control RNA","test":"Pretest","kind":"trace","t":1530,"v":36},{"cond":"Control RNA","test":"Pretest","kind":"trace","t":1570,"v":30},{"cond":"Control RNA","test":"Pretest","kind":"trace","t":1630,"v":25},
    {"cond":"Control RNA","test":"Posttest","kind":"trace","t":10,"v":29.3},{"cond":"Control RNA","test":"Posttest","kind":"trace","t":70,"v":29.3},{"cond":"Control RNA","test":"Posttest","kind":"trace","t":73,"v":26.7},{"cond":"Control RNA","test":"Posttest","kind":"trace","t":80,"v":37},{"cond":"Control RNA","test":"Posttest","kind":"trace","t":95,"v":49},{"cond":"Control RNA","test":"Posttest","kind":"trace","t":105,"v":56.7},{"cond":"Control RNA","test":"Posttest","kind":"trace","t":113,"v":106.7},{"cond":"Control RNA","test":"Posttest","kind":"trace","t":120,"v":50},{"cond":"Control RNA","test":"Posttest","kind":"trace","t":127,"v":41.7},{"cond":"Control RNA","test":"Posttest","kind":"trace","t":150,"v":44},{"cond":"Control RNA","test":"Posttest","kind":"trace","t":190,"v":49},{"cond":"Control RNA","test":"Posttest","kind":"trace","t":227,"v":51.7},{"cond":"Control RNA","test":"Posttest","kind":"trace","t":260,"v":48.5},{"cond":"Control RNA","test":"Posttest","kind":"trace","t":293,"v":45},{"cond":"Control RNA","test":"Posttest","kind":"trace","t":360,"v":46},{"cond":"Control RNA","test":"Posttest","kind":"trace","t":510,"v":45.5},{"cond":"Control RNA","test":"Posttest","kind":"trace","t":660,"v":46.5},{"cond":"Control RNA","test":"Posttest","kind":"trace","t":810,"v":45},{"cond":"Control RNA","test":"Posttest","kind":"trace","t":960,"v":46},{"cond":"Control RNA","test":"Posttest","kind":"trace","t":1110,"v":45.5},{"cond":"Control RNA","test":"Posttest","kind":"trace","t":1260,"v":46.5},{"cond":"Control RNA","test":"Posttest","kind":"trace","t":1410,"v":45.5},{"cond":"Control RNA","test":"Posttest","kind":"trace","t":1500,"v":45.7},{"cond":"Control RNA","test":"Posttest","kind":"trace","t":1503,"v":41},{"cond":"Control RNA","test":"Posttest","kind":"trace","t":1520,"v":35},{"cond":"Control RNA","test":"Posttest","kind":"trace","t":1550,"v":31},{"cond":"Control RNA","test":"Posttest","kind":"trace","t":1610,"v":29},
    {"cond":"Trained RNA","test":"Pretest","kind":"trace","t":13,"v":8},{"cond":"Trained RNA","test":"Pretest","kind":"trace","t":67,"v":8},{"cond":"Trained RNA","test":"Pretest","kind":"trace","t":80,"v":9},{"cond":"Trained RNA","test":"Pretest","kind":"trace","t":100,"v":12},{"cond":"Trained RNA","test":"Pretest","kind":"trace","t":120,"v":17},{"cond":"Trained RNA","test":"Pretest","kind":"trace","t":140,"v":23},{"cond":"Trained RNA","test":"Pretest","kind":"trace","t":160,"v":30},{"cond":"Trained RNA","test":"Pretest","kind":"trace","t":173,"v":35.3},{"cond":"Trained RNA","test":"Pretest","kind":"trace","t":183,"v":42},{"cond":"Trained RNA","test":"Pretest","kind":"trace","t":187,"v":92},{"cond":"Trained RNA","test":"Pretest","kind":"trace","t":190,"v":112},{"cond":"Trained RNA","test":"Pretest","kind":"trace","t":196,"v":62},{"cond":"Trained RNA","test":"Pretest","kind":"trace","t":205,"v":27},{"cond":"Trained RNA","test":"Pretest","kind":"trace","t":213,"v":15.3},{"cond":"Trained RNA","test":"Pretest","kind":"trace","t":230,"v":18},{"cond":"Trained RNA","test":"Pretest","kind":"trace","t":280,"v":25},{"cond":"Trained RNA","test":"Pretest","kind":"trace","t":340,"v":32},{"cond":"Trained RNA","test":"Pretest","kind":"trace","t":390,"v":38},{"cond":"Trained RNA","test":"Pretest","kind":"trace","t":413,"v":39.3},{"cond":"Trained RNA","test":"Pretest","kind":"trace","t":440,"v":33},{"cond":"Trained RNA","test":"Pretest","kind":"trace","t":473,"v":27},{"cond":"Trained RNA","test":"Pretest","kind":"trace","t":520,"v":29},{"cond":"Trained RNA","test":"Pretest","kind":"trace","t":560,"v":31},{"cond":"Trained RNA","test":"Pretest","kind":"trace","t":607,"v":31.5},{"cond":"Trained RNA","test":"Pretest","kind":"trace","t":690,"v":30},{"cond":"Trained RNA","test":"Pretest","kind":"trace","t":840,"v":30.5},{"cond":"Trained RNA","test":"Pretest","kind":"trace","t":990,"v":30},{"cond":"Trained RNA","test":"Pretest","kind":"trace","t":1140,"v":31},{"cond":"Trained RNA","test":"Pretest","kind":"trace","t":1290,"v":30},{"cond":"Trained RNA","test":"Pretest","kind":"trace","t":1440,"v":30.5},{"cond":"Trained RNA","test":"Pretest","kind":"trace","t":1507,"v":30.5},{"cond":"Trained RNA","test":"Pretest","kind":"trace","t":1510,"v":26},{"cond":"Trained RNA","test":"Pretest","kind":"trace","t":1530,"v":20},{"cond":"Trained RNA","test":"Pretest","kind":"trace","t":1570,"v":15},{"cond":"Trained RNA","test":"Pretest","kind":"trace","t":1630,"v":12.7},
    {"cond":"Trained RNA","test":"Posttest","kind":"trace","t":10,"v":7},{"cond":"Trained RNA","test":"Posttest","kind":"trace","t":93,"v":7},{"cond":"Trained RNA","test":"Posttest","kind":"trace","t":110,"v":8},{"cond":"Trained RNA","test":"Posttest","kind":"trace","t":143,"v":18.7},{"cond":"Trained RNA","test":"Posttest","kind":"trace","t":170,"v":25},{"cond":"Trained RNA","test":"Posttest","kind":"trace","t":210,"v":31},{"cond":"Trained RNA","test":"Posttest","kind":"trace","t":243,"v":35.3},{"cond":"Trained RNA","test":"Posttest","kind":"trace","t":270,"v":40},{"cond":"Trained RNA","test":"Posttest","kind":"trace","t":283,"v":44},{"cond":"Trained RNA","test":"Posttest","kind":"trace","t":285,"v":110.3},{"cond":"Trained RNA","test":"Posttest","kind":"trace","t":290,"v":72},{"cond":"Trained RNA","test":"Posttest","kind":"trace","t":300,"v":32},{"cond":"Trained RNA","test":"Posttest","kind":"trace","t":310,"v":20.3},{"cond":"Trained RNA","test":"Posttest","kind":"trace","t":340,"v":23},{"cond":"Trained RNA","test":"Posttest","kind":"trace","t":410,"v":29},{"cond":"Trained RNA","test":"Posttest","kind":"trace","t":510,"v":32},{"cond":"Trained RNA","test":"Posttest","kind":"trace","t":610,"v":31.5},{"cond":"Trained RNA","test":"Posttest","kind":"trace","t":810,"v":31},{"cond":"Trained RNA","test":"Posttest","kind":"trace","t":1010,"v":31.5},{"cond":"Trained RNA","test":"Posttest","kind":"trace","t":1210,"v":30.5},{"cond":"Trained RNA","test":"Posttest","kind":"trace","t":1410,"v":31},{"cond":"Trained RNA","test":"Posttest","kind":"trace","t":1533,"v":31},{"cond":"Trained RNA","test":"Posttest","kind":"trace","t":1536,"v":27},{"cond":"Trained RNA","test":"Posttest","kind":"trace","t":1555,"v":21},{"cond":"Trained RNA","test":"Posttest","kind":"trace","t":1580,"v":17},{"cond":"Trained RNA","test":"Posttest","kind":"trace","t":1610,"v":15.3},
    {"cond":"Vehicle","test":"Pretest","kind":"stim","t":73,"t2":1507,"v":30},{"cond":"Vehicle","test":"Posttest","kind":"stim","t":103,"t2":1533,"v":30},
    {"cond":"Control RNA","test":"Pretest","kind":"stim","t":73,"t2":1507,"v":16.7},{"cond":"Control RNA","test":"Posttest","kind":"stim","t":103,"t2":1533,"v":16.7},
    {"cond":"Trained RNA","test":"Pretest","kind":"stim","t":73,"t2":1507,"v":-0.3},{"cond":"Trained RNA","test":"Posttest","kind":"stim","t":103,"t2":1533,"v":-0.3},
    {"cond":"Vehicle","test":"Pretest","kind":"label","t":0,"v":130.5,"label":"Vehicle"},
    {"cond":"Control RNA","test":"Pretest","kind":"label","t":0,"v":126,"label":"Control RNA"},
    {"cond":"Trained RNA","test":"Pretest","kind":"label","t":0,"v":126.5,"label":"Trained RNA"},
    {"cond":"Vehicle","test":"Pretest","kind":"stimlabel","t":40,"v":16,"label":"Stim."},
    {"cond":"Trained RNA","test":"Posttest","kind":"scale","t":1410,"t2":1600,"v":56.3,"v2":56.3},
    {"cond":"Trained RNA","test":"Posttest","kind":"scale","t":1593,"t2":1593,"v":90.3,"v2":56.3}
  ]},
  "facet": {
    "column": {"field": "test", "type": "nominal", "sort": ["Pretest", "Posttest"], "title": "Motor neurons", "header": {"titlePadding": 0, "labelPadding": -4}},
    "row": {"field": "cond", "type": "nominal", "sort": ["Vehicle", "Control RNA", "Trained RNA"], "title": null, "header": {"labels": false}}
  },
  "spacing": {"row": -2, "column": 48},
  "spec": {
    "width": 165, "height": 109,
    "layer": [
      {"transform": [{"filter": "datum.kind == 'trace'"}],
       "mark": {"type": "line", "strokeWidth": 1.4, "interpolate": "linear"},
       "encoding": {
         "x": {"field": "t", "type": "quantitative", "scale": {"domain": [0, 1650], "nice": false, "zero": false}, "axis": null},
         "y": {"field": "v", "type": "quantitative", "scale": {"domain": [0, 109], "nice": false, "zero": false}, "axis": null},
         "color": {"field": "cond", "type": "nominal", "scale": {"domain": ["Vehicle", "Control RNA", "Trained RNA"], "range": ["#1e1e1e", "#2b4c9c", "#ea3a94"]}, "legend": null}
       }},
      {"transform": [{"filter": "datum.kind == 'stim'"}],
       "mark": {"type": "rule", "strokeWidth": 4, "color": "#231f20"},
       "encoding": {
         "x": {"field": "t", "type": "quantitative", "scale": {"domain": [0, 1650], "nice": false, "zero": false}, "axis": null},
         "x2": {"field": "t2"},
         "y": {"field": "v", "type": "quantitative", "scale": {"domain": [0, 109], "nice": false, "zero": false}, "axis": null}
       }},
      {"transform": [{"filter": "datum.kind == 'scale'"}],
       "mark": {"type": "rule", "strokeWidth": 2.5, "color": "#111"},
       "encoding": {
         "x": {"field": "t", "type": "quantitative", "scale": {"domain": [0, 1650], "nice": false, "zero": false}, "axis": null},
         "x2": {"field": "t2"},
         "y": {"field": "v", "type": "quantitative", "scale": {"domain": [0, 109], "nice": false, "zero": false}, "axis": null},
         "y2": {"field": "v2"}
       }},
      {"transform": [{"filter": "datum.kind == 'label'"}],
       "mark": {"type": "text", "align": "left", "baseline": "middle", "fontSize": 17, "color": "#111"},
       "encoding": {
         "x": {"field": "t", "type": "quantitative", "scale": {"domain": [0, 1650], "nice": false, "zero": false}, "axis": null},
         "y": {"field": "v", "type": "quantitative", "scale": {"domain": [0, 109], "nice": false, "zero": false}, "axis": null},
         "text": {"field": "label"}
       }},
      {"transform": [{"filter": "datum.kind == 'stimlabel'"}],
       "mark": {"type": "text", "align": "left", "baseline": "middle", "fontSize": 14, "color": "#111"},
       "encoding": {
         "x": {"field": "t", "type": "quantitative", "scale": {"domain": [0, 1650], "nice": false, "zero": false}, "axis": null},
         "y": {"field": "v", "type": "quantitative", "scale": {"domain": [0, 109], "nice": false, "zero": false}, "axis": null},
         "text": {"field": "label"}
       }}
    ]
  }
},
{
  "title": {"text": "D", "orient": "left", "angle": 0, "anchor": "end", "align": "left", "baseline": "top", "fontSize": 21, "fontWeight": "bold", "offset": 10, "dy": 5},
  "hconcat": [
  {
    "title": {"text": "Motor neurons", "fontSize": 14, "fontWeight": "bold", "anchor": "middle", "frame": "group", "offset": 44.5, "dx": 0},
    "width": 218, "height": 290,
    "layer": [
      {"data": {"values": [{"group":"Vehicle","mean":-29.5,"lo":-48.2,"hi":-10.2},{"group":"Control RNA","mean":5.6,"lo":-28.6,"hi":39.6},{"group":"Trained RNA","mean":-1.3,"lo":-35.3,"hi":32.4}]},
       "layer": [
        {"mark": {"type": "bar", "stroke": "#111", "strokeWidth": 2},
         "encoding": {
           "x": {"field": "group", "type": "nominal", "title": null, "scale": {"domain": ["Vehicle", "Control RNA", "Trained RNA"], "paddingInner": 0.32, "paddingOuter": 0.16}},
           "y": {"field": "mean", "type": "quantitative", "title": "% Change in AP number", "scale": {"domain": [-100, 150], "nice": false}, "axis": {"values": [-100, -50, 0, 50, 100, 150]}},
           "fill": {"field": "group", "type": "nominal", "scale": {"domain": ["Vehicle", "Control RNA", "Trained RNA"], "range": ["#ffffff", "#233f95", "#fe2c93"]}, "legend": null}
         }},
        {"mark": {"type": "rule", "strokeWidth": 2, "color": "#111"},
         "encoding": {
           "x": {"field": "group", "type": "nominal", "title": null, "scale": {"domain": ["Vehicle", "Control RNA", "Trained RNA"]}},
           "y": {"field": "lo", "type": "quantitative", "title": "% Change in AP number", "scale": {"domain": [-100, 150], "nice": false}},
           "y2": {"field": "hi"}
         }},
        {"mark": {"type": "tick", "thickness": 2, "size": 25, "color": "#111"},
         "encoding": {
           "x": {"field": "group", "type": "nominal", "title": null, "scale": {"domain": ["Vehicle", "Control RNA", "Trained RNA"]}},
           "y": {"field": "lo", "type": "quantitative", "title": "% Change in AP number", "scale": {"domain": [-100, 150], "nice": false}}
         }},
        {"mark": {"type": "tick", "thickness": 2, "size": 25, "color": "#111"},
         "encoding": {
           "x": {"field": "group", "type": "nominal", "title": null, "scale": {"domain": ["Vehicle", "Control RNA", "Trained RNA"]}},
           "y": {"field": "hi", "type": "quantitative", "title": "% Change in AP number", "scale": {"domain": [-100, 150], "nice": false}}
         }}
       ]},
      {"mark": {"type": "rule", "strokeWidth": 2, "color": "#111"},
       "encoding": {"y": {"datum": 0, "type": "quantitative", "title": "% Change in AP number", "scale": {"domain": [-100, 150], "nice": false}}}},
      {"data": {"values": [{"group": "Control RNA", "y": 83, "label": "n.s."}]},
       "mark": {"type": "text", "fontSize": 17, "baseline": "alphabetic", "align": "center", "color": "#111"},
       "encoding": {"x": {"field": "group", "type": "nominal", "bandPosition": 0.42, "title": null, "scale": {"domain": ["Vehicle", "Control RNA", "Trained RNA"]}}, "y": {"field": "y", "type": "quantitative", "title": "% Change in AP number", "scale": {"domain": [-100, 150], "nice": false}}, "text": {"field": "label"}}}
    ]
  }
  ]
}
]
}
]
}
